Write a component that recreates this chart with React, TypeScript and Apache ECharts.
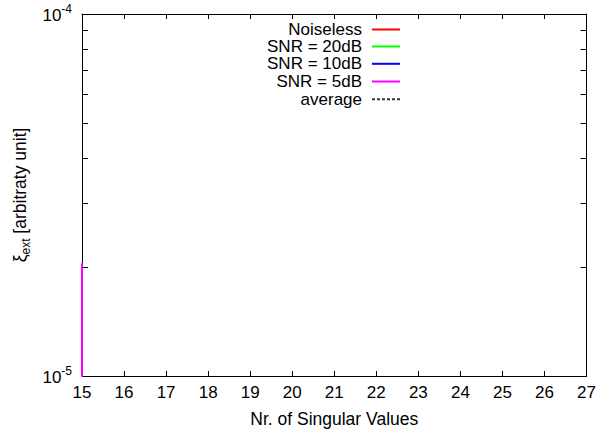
import { useEffect, useRef } from 'react';
import * as echarts from 'echarts';

const FONT = '"Liberation Sans", Arial, Helvetica, sans-serif';

// x axis: number of singular values kept
const xMin = 15;
const xMax = 27;
// y axis: log scale, one decade
const yMin = 1e-5;
const yMax = 1e-4;
const yMinorTicks = [2e-5, 3e-5, 4e-5, 5e-5, 6e-5, 7e-5, 8e-5, 9e-5];

const seriesNames = ['Noiseless', 'SNR = 20dB', 'SNR = 10dB', 'SNR = 5dB', 'average'];
const seriesColors = ['#ff0000', '#00ff00', '#0000ff', '#ff00ff', '#000000'];

// every run was recorded at the same number of singular values
const nrSingular = [15, 15, 15];
const noiseless = [1.7e-5, 5.0e-6, 1.2e-6];
const snr20 = [1.8e-5, 5.5e-6, 1.4e-6];
const snr10 = [1.95e-5, 6.2e-6, 1.7e-6];
const snr5 = [2.05e-5, 7.0e-6, 2.0e-6];
const average = [1.87e-5, 5.9e-6, 1.6e-6];

const seriesValues = [noiseless, snr20, snr10, snr5, average];
const legendTops = [21, 38, 55.3, 73, 90.7];

const black = '#000000';

export default function App() {
  const ref = useRef<HTMLDivElement>(null);

  useEffect(() => {
    if (!ref.current) return;
    const chart = echarts.init(ref.current, undefined, { renderer: 'svg' });

    const tickAxisBase = {
      axisLabel: { show: false },
      splitLine: { show: false },
    };

    const series = seriesNames.map((name, i) => ({
      name,
      type: 'line',
      xAxisIndex: 0,
      yAxisIndex: 0,
      symbol: 'none',
      showSymbol: false,
      data: nrSingular.map((x, k) => [x, seriesValues[i][k]]),
      lineStyle:
        i === 4
          ? { color: '#333333', width: 1, type: [3, 2] }
          : { color: seriesColors[i], width: 2 },
      itemStyle: { color: seriesColors[i] },
      z: i === 4 ? 1 : 2 + i,
    }));

    const legends = seriesNames.map((name, i) => ({
      data: [name],
      right: 198,
      top: legendTops[i],
      orient: 'vertical',
      align: 'right',
      itemWidth: 28,
      itemHeight: 14,
      itemGap: 0,
      padding: 0,
      selectedMode: false,
      itemStyle: { opacity: 0 },
      textStyle: {
        fontSize: 17,
        lineHeight: 15,
        color: black,
        fontFamily: FONT,
        padding: [0, 5, 0, 0],
      },
    }));

    chart.setOption({
      animation: false,
      backgroundColor: '#ffffff',
      textStyle: { fontFamily: FONT },
      grid: { left: 82, right: 12, top: 14, bottom: 58, containLabel: false },
      legend: legends,
      xAxis: [
        {
          type: 'value',
          min: xMin,
          max: xMax,
          interval: 1,
          position: 'bottom',
          name: 'Nr. of Singular Values',
          nameLocation: 'middle',
          nameGap: 34,
          nameTextStyle: { fontSize: 17.5, color: black, fontFamily: FONT },
          axisLine: { onZero: false, lineStyle: { color: black, width: 1 } },
          axisTick: { inside: true, length: 5, lineStyle: { color: black } },
          axisLabel: { fontSize: 17, color: black, margin: 8, fontFamily: FONT },
          splitLine: { show: false },
        },
        {
          type: 'value',
          min: xMin,
          max: xMax,
          interval: 1,
          position: 'top',
          axisLine: { onZero: false, lineStyle: { color: black, width: 1 } },
          axisTick: { inside: true, length: 5, lineStyle: { color: black } },
          ...tickAxisBase,
        },
      ],
      yAxis: [
        {
          type: 'log',
          logBase: 10,
          min: yMin,
          max: yMax,
          interval: 1,
          position: 'left',
          name: '{a|ξ}{s|ext}{a| [arbitraty unit]}',
          nameLocation: 'middle',
          nameRotate: 90,
          nameGap: 46,
          nameTextStyle: {
            color: black,
            fontFamily: FONT,
            rich: {
              a: { fontSize: 17.5, lineHeight: 24, fontFamily: FONT, color: black },
              s: {
                fontSize: 12,
                lineHeight: 12,
                verticalAlign: 'bottom',
                fontFamily: FONT,
                color: black,
              },
            },
          },
          axisLine: { onZero: false, lineStyle: { color: black, width: 1 } },
          axisTick: { show: false },
          minorTick: { show: false },
          axisLabel: {
            margin: 10,
            padding: [3, 0, 0, 0],
            formatter: (v: number) => `{b|10}{p|${Math.round(Math.log10(v))}}`,
            rich: {
              b: { fontSize: 17, lineHeight: 26, fontFamily: FONT, color: black },
              p: {
                fontSize: 12,
                lineHeight: 12,
                verticalAlign: 'top',
                fontFamily: FONT,
                color: black,
              },
            },
          },
          splitLine: { show: false },
        },
        {
          // minor decade ticks on the left border
          type: 'value',
          min: Math.log10(yMin),
          max: Math.log10(yMax),
          position: 'left',
          axisLine: { show: false },
          axisTick: {
            inside: true,
            length: 6,
            lineStyle: { color: black },
            customValues: yMinorTicks.map((v) => Math.log10(v)),
          },
          ...tickAxisBase,
        },
        {
          type: 'log',
          logBase: 10,
          min: yMin,
          max: yMax,
          interval: 1,
          position: 'right',
          axisLine: { onZero: false, lineStyle: { color: black, width: 1 } },
          axisTick: { show: false },
          ...tickAxisBase,
        },
        {
          // minor decade ticks on the right border
          type: 'value',
          min: Math.log10(yMin),
          max: Math.log10(yMax),
          position: 'right',
          axisLine: { show: false },
          axisTick: {
            inside: true,
            length: 6,
            lineStyle: { color: black },
            customValues: yMinorTicks.map((v) => Math.log10(v)),
          },
          ...tickAxisBase,
        },
      ],
      series,
    });

    return () => chart.dispose();
  }, []);

  return (
    <div
      ref={ref}
      style={{ position: 'fixed', left: 0, top: 0, width: 599, height: 434, background: '#fff' }}
    />
  );
}
